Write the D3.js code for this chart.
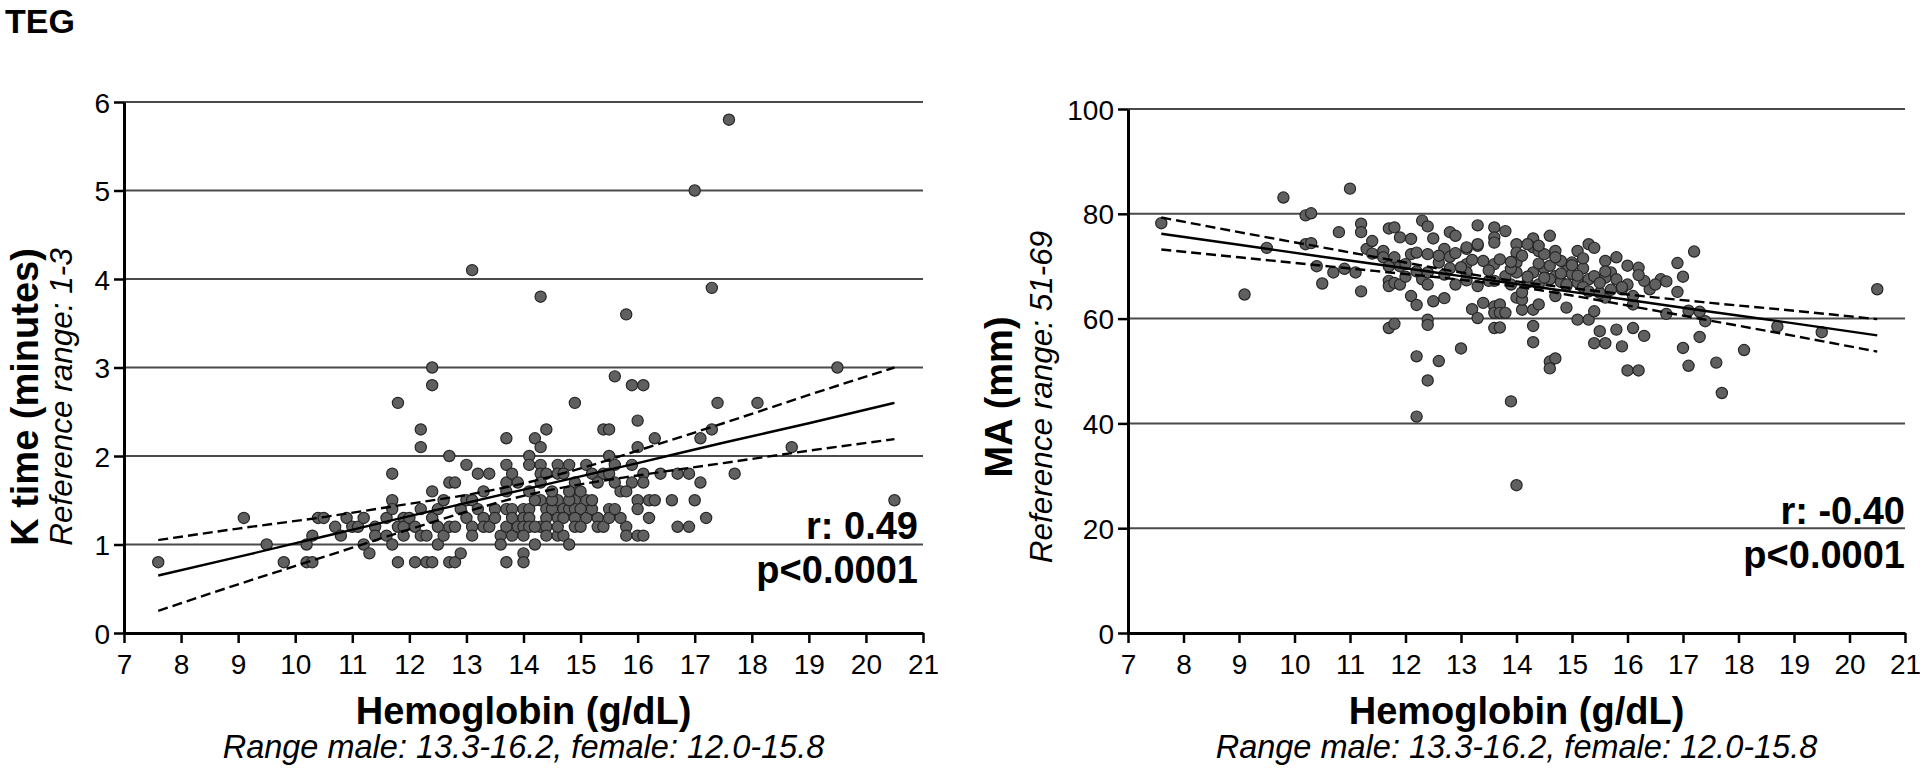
<!DOCTYPE html>
<html><head><meta charset="utf-8">
<script src="https://cdn.jsdelivr.net/npm/d3@7"></script>
<style>
body{margin:0;background:#fff;}
text{font-family:"Liberation Sans",Arial,Helvetica,sans-serif;fill:#000;}
</style>
</head><body>
<svg id="chart" width="1920" height="774"></svg>
<script>
// ---------------- DATA ----------------
const xTicks = [7,8,9,10,11,12,13,14,15,16,17,18,19,20,21];
const kTicks = [0,1,2,3,4,5,6];
const maTicks = [0,20,40,60,80,100];

// K time panel: hemoglobin (g/dL) and K time (minutes)
const kHb = [7.6,9.1,9.5,9.8,10.2,10.3,10.2,10.3,10.4,10.5,10.7,10.8,10.9,11.0,11.1,11.2,11.2,11.3,11.4,11.4,
  11.6,11.6,11.7,11.7,11.7,11.7,11.8,11.8,11.8,11.9,11.9,11.9,12.0,12.1,12.1,12.2,12.2,12.2,12.2,12.3,
  12.4,12.4,12.4,12.4,12.4,12.3,12.5,12.5,12.5,12.6,12.6,12.7,12.7,12.8,12.7,12.7,12.8,12.8,12.9,12.9,
  13.0,13.0,13.0,13.1,13.1,13.1,13.2,13.4,13.2,13.3,13.3,13.3,13.4,13.5,13.5,13.6,13.6,13.7,13.7,13.7,
  13.7,13.7,13.7,13.7,13.8,13.8,13.8,13.8,13.9,13.9,13.1,
  17.6,17.0,14.3,15.8,17.3,19.5,15.6,15.9,16.1,14.9,17.4,18.1,14.4,15.4,15.5,16.0,14.2,14.3,16.3,17.1,
  17.3,16.0,14.1,15.5,18.7,14.1,14.3,14.6,14.8,15.1,15.6,15.9,14.3,14.4,14.6,14.7,15.2,15.4,15.5,16.1,
  16.4,16.7,16.9,17.7,14.3,14.9,15.3,15.6,15.9,16.1,17.1,15.7,15.8,14.3,14.6,14.9,15.1,16.0,16.2,16.3,
  16.6,17.0,20.5,16.0,17.2,14.0,14.1,14.4,14.5,14.7,14.8,14.9,15.0,14.0,14.1,14.4,14.6,14.7,14.9,15.1,
  15.3,14.0,14.1,14.3,14.4,14.9,15.3,15.4,15.8,16.7,16.9,14.0,14.4,14.6,14.7,15.8,16.0,16.1,14.0,14.0,
  14.2,14.5,14.8,15.2,15.5,15.7,14.2,14.6,15.0,15.5,16.2,14.1,14.5,14.8,15.0,15.2,15.6,14.2,14.8];
const kTime = [0.8,1.3,1.0,0.8,1.0,1.1,0.8,0.8,1.3,1.3,1.2,1.1,1.3,1.2,1.2,1.3,1.0,0.9,1.2,1.1,
  1.3,1.1,1.8,1.5,1.4,1.0,2.6,1.2,0.8,1.3,1.2,1.1,1.3,1.2,0.8,2.3,2.1,1.4,1.1,0.8,
  3.0,2.8,1.6,1.3,0.8,1.1,1.4,1.2,1.0,1.5,1.1,2.0,1.7,1.7,1.2,0.8,0.8,1.2,1.4,0.9,
  1.9,1.5,1.3,1.5,1.2,1.1,1.8,1.8,1.4,1.6,1.3,1.2,1.2,1.4,1.3,1.1,1.0,2.2,1.9,1.7,
  1.6,1.4,1.2,0.8,1.8,1.4,1.3,1.1,1.7,1.2,4.1,
  5.8,5.0,3.8,3.6,3.9,3.0,2.9,2.8,2.8,2.6,2.6,2.6,2.3,2.3,2.3,2.4,2.2,2.1,2.2,2.2,
  2.3,2.1,2.0,2.0,2.1,1.9,1.9,1.9,1.9,1.9,1.9,1.9,1.8,1.8,1.8,1.8,1.8,1.8,1.8,1.8,
  1.8,1.8,1.8,1.8,1.7,1.7,1.7,1.7,1.7,1.7,1.7,1.6,1.6,1.5,1.5,1.5,1.5,1.5,1.5,1.5,
  1.5,1.5,1.5,1.4,1.3,1.4,1.4,1.4,1.4,1.4,1.4,1.4,1.4,1.3,1.3,1.3,1.3,1.3,1.3,1.3,
  1.3,1.2,1.2,1.2,1.2,1.2,1.2,1.2,1.2,1.2,1.2,1.1,1.1,1.1,1.1,1.1,1.1,1.1,0.9,0.8,
  1.5,1.5,1.5,1.4,1.4,1.3,1.2,1.2,1.2,1.3,1.3,1.6,1.6,1.6,1.6,1.5,1.4,1.0,1.0];

// K time regression
const kFitX   = [7.6,9.0,10.5,12.0,13.0,14.0,15.0,16.0,17.5,19.0,20.5];
const kFit    = [0.65,0.86,1.09,1.32,1.47,1.62,1.77,1.92,2.15,2.37,2.60];
const kUpper  = [1.05,1.18,1.31,1.46,1.56,1.69,1.86,2.06,2.37,2.69,3.00];
const kLower  = [0.25,0.55,0.86,1.17,1.37,1.55,1.68,1.78,1.92,2.06,2.19];

// MA panel: hemoglobin (g/dL) and MA (mm)
const maHb = [7.6,9.1,9.5,9.8,10.2,10.3,10.2,10.3,10.4,10.5,10.7,10.8,10.9,11.0,11.1,11.2,11.2,11.2,11.3,11.4,
  11.4,11.6,11.6,11.7,11.8,11.7,11.7,11.7,11.8,11.9,11.7,11.8,11.8,11.9,11.9,12.0,12.1,12.1,12.2,12.1,
  12.2,12.2,12.2,12.3,12.4,12.3,12.4,12.4,12.4,12.4,12.4,12.5,12.5,12.4,12.6,12.6,12.7,12.7,12.7,12.8,
  12.8,12.8,12.9,12.9,13.0,13.1,13.1,13.1,13.1,13.2,13.3,13.3,13.3,13.3,13.4,13.4,13.6,13.6,13.6,13.6,
  13.6,13.6,13.6,13.6,13.5,
  13.8,14.3,14.6,15.3,15.4,17.2,16.9,17.0,16.9,16.6,16.7,20.5,16.2,16.0,15.8,15.6,15.1,14.7,14.0,14.0,
  14.0,14.3,14.4,14.3,14.1,14.3,14.4,14.0,13.7,13.7,13.8,13.7,14.3,14.3,14.6,14.7,14.6,13.9,14.0,14.9,
  15.1,15.3,15.4,15.5,15.4,15.6,15.8,15.9,16.1,16.3,16.0,16.2,16.1,16.7,17.1,17.3,17.4,17.3,17.0,17.1,
  17.6,17.7,18.1,18.7,19.5,16.4,16.3,16.0,15.9,16.1,15.6,15.5,15.3,15.4,15.2,15.0,14.8,14.9,14.7,14.7,
  14.5,14.4,14.2,14.1,13.9,13.8,14.0,15.7,15.8,15.6,15.1,14.9,13.7,14.1,14.5,14.6,
  14.2,14.8,15.0,15.2,15.5,15.7,13.9,14.4,14.6,15.1,15.9,16.5,14.1,14.5,14.9,15.3,15.6,16.2,
  13.1,13.3,14.2,14.4,14.7,15.0,12.9,13.0,13.2,12.6,12.2,12.0,13.5,13.9,14.8,15.2];
const maVal = [78.2,64.6,73.5,83.1,79.7,80.1,74.2,74.4,70.0,66.7,68.8,76.5,69.5,84.8,68.8,78.1,76.5,65.2,73.3,74.8,
  72.4,72.9,71.7,77.2,77.4,70.0,67.2,66.2,66.8,66.5,58.2,59.0,71.7,75.5,70.0,70.4,75.2,72.3,72.6,64.3,
  62.6,52.8,41.3,78.7,77.6,67.5,68.8,66.5,59.8,58.8,72.3,75.3,63.3,48.2,51.9,70.7,73.3,68.4,63.9,76.5,
  71.8,69.6,75.8,66.5,54.3,73.3,70.4,68.8,67.3,61.8,77.8,73.9,66.2,60.1,71.0,63.0,77.4,75.5,74.5,70.4,
  67.2,62.3,61.1,58.2,67.2,
  76.7,75.3,75.8,74.2,73.5,72.8,70.6,68.0,65.1,67.5,67.1,65.6,69.7,70.1,71.7,71.0,72.9,72.9,74.2,72.6,
  70.7,73.6,72.9,68.8,61.7,61.7,62.7,64.0,62.7,61.1,61.1,58.3,58.6,55.5,51.8,52.4,50.5,44.2,28.2,62.1,
  59.8,59.8,61.4,57.6,55.3,55.3,57.9,54.7,58.2,56.7,50.1,50.1,62.7,60.9,61.5,61.3,59.5,56.5,54.4,51.0,
  51.6,45.8,54.0,58.5,57.4,65.6,67.2,66.5,65.6,64.3,64.0,64.9,67.5,68.1,69.6,70.7,71.0,69.1,68.1,64.3,
  69.6,66.5,66.9,63.6,66.5,68.1,68.8,68.8,67.5,67.8,66.9,66.2,71.3,72.0,72.3,70.1,
  68.0,67.0,68.5,66.0,66.8,65.5,69.5,70.5,67.5,68.2,66.0,66.5,65.0,67.8,66.5,65.2,69.0,68.3,
  73.6,74.2,74.2,73.9,71.7,70.2,72.5,69.8,71.2,72.0,69.0,68.0,69.2,70.8,68.6,71.5];

// MA regression
const maFitX  = [7.6,9.0,10.5,12.0,13.0,14.0,15.0,16.0,17.5,19.0,20.5];
const maFit   = [76.2,74.1,71.8,69.6,68.1,66.6,65.1,63.6,61.3,59.1,56.8];
const maUpper = [79.3,76.5,73.6,70.7,68.8,67.1,65.8,64.6,63.0,61.5,59.9];
const maLower = [73.2,71.7,70.1,68.5,67.4,66.1,64.4,62.5,59.6,56.7,53.7];

// ---------------- DRAW ----------------
const svg = d3.select("#chart");

svg.append("text").attr("x", 5).attr("y", 33)
  .style("font-size", "34px").style("font-weight", "bold").text("TEG");

function panel(cfg) {
  const x = d3.scaleLinear().domain([7, 21]).range([cfg.x0, cfg.x1]);
  const y = d3.scaleLinear().domain([0, cfg.yMax]).range([cfg.y0, cfg.y1]);
  const g = svg.append("g");

  // gridlines
  g.append("g").selectAll("line").data(cfg.yTicks.filter(d => d > 0)).join("line")
    .attr("x1", x(7)).attr("x2", x(21))
    .attr("y1", d => y(d)).attr("y2", d => y(d))
    .attr("stroke", "#4a4a4a").attr("stroke-width", 2);

  // axes
  const xAxis = d3.axisBottom(x).tickValues(xTicks).tickFormat(d3.format("d"))
    .tickSize(10).tickPadding(6).tickSizeOuter(0);
  const yAxis = d3.axisLeft(y).tickValues(cfg.yTicks).tickFormat(d3.format("d"))
    .tickSize(10).tickPadding(4).tickSizeOuter(0);
  const gx = g.append("g").attr("transform", `translate(0,${cfg.y0})`).call(xAxis);
  const gy = g.append("g").attr("transform", `translate(${cfg.x0},0)`).call(yAxis);
  [gx, gy].forEach(a => {
    a.select(".domain").attr("stroke", "#000").attr("stroke-width", 3);
    a.selectAll(".tick line").attr("stroke", "#000").attr("stroke-width", 2.5);
    a.selectAll(".tick text").style("font-size", "28px")
      .style("font-family", "'Liberation Sans',Arial,sans-serif").attr("fill", "#000");
  });
  gx.selectAll(".tick text").attr("dy", "0.9em");
  gy.selectAll(".tick text").attr("dy", "0.36em");

  // points
  g.append("g").selectAll("circle").data(cfg.hb.map((h, i) => [h, cfg.val[i]])).join("circle")
    .attr("cx", d => x(d[0])).attr("cy", d => y(d[1])).attr("r", 5.6)
    .attr("fill", "#606060").attr("stroke", "#262626").attr("stroke-width", 1.2);

  // regression lines
  const line = d3.line().x(d => x(d[0])).y(d => y(d[1])).curve(d3.curveMonotoneX);
  const mk = arr => cfg.fitX.map((v, i) => [v, arr[i]]);
  g.append("path").attr("d", line(mk(cfg.fit))).attr("fill", "none")
    .attr("stroke", "#000").attr("stroke-width", 2.4);
  [cfg.upper, cfg.lower].forEach(arr => {
    g.append("path").attr("d", line(mk(arr))).attr("fill", "none").attr("stroke", "#000")
      .attr("stroke-width", 2.4).attr("stroke-dasharray", "10,5");
  });

  // axis titles
  const xc = (cfg.x0 + cfg.x1) / 2;
  g.append("text").attr("x", xc).attr("y", 724).attr("text-anchor", "middle")
    .style("font-size", "38px").style("font-weight", "bold").text("Hemoglobin (g/dL)");
  g.append("text").attr("x", xc).attr("y", 758).attr("text-anchor", "middle")
    .style("font-size", "32.5px").style("font-style", "italic").text("Range male: 13.3-16.2, female: 12.0-15.8");

  g.append("text").attr("transform", `translate(${cfg.titleX},397) rotate(-90)`).attr("text-anchor", "middle")
    .style("font-size", "38px").style("font-weight", "bold").text(cfg.yTitle);
  g.append("text").attr("transform", `translate(${cfg.refX},397) rotate(-90)`).attr("text-anchor", "middle")
    .style("font-size", "31.5px").style("font-style", "italic").text(cfg.yRef);

  // stats
  g.append("text").attr("x", cfg.statX).attr("y", cfg.rY).attr("text-anchor", "end")
    .style("font-size", "38px").style("font-weight", "bold").text(cfg.r);
  g.append("text").attr("x", cfg.statX).attr("y", cfg.rY + 44).attr("text-anchor", "end")
    .style("font-size", "38px").style("font-weight", "bold").text("p<0.0001");
}

panel({x0: 124, x1: 923, y0: 633, y1: 102, yMax: 6, yTicks: kTicks,
  hb: kHb, val: kTime, fitX: kFitX, fit: kFit, upper: kUpper, lower: kLower,
  yTitle: "K time (minutes)", yRef: "Reference range: 1-3", titleX: 38, refX: 72,
  statX: 918, rY: 539, r: "r: 0.49"});

panel({x0: 1128, x1: 1905, y0: 633, y1: 109, yMax: 100, yTicks: maTicks,
  hb: maHb, val: maVal, fitX: maFitX, fit: maFit, upper: maUpper, lower: maLower,
  yTitle: "MA (mm)", yRef: "Reference range: 51-69", titleX: 1012, refX: 1052,
  statX: 1905, rY: 524, r: "r: -0.40"});
</script>
</body></html>
